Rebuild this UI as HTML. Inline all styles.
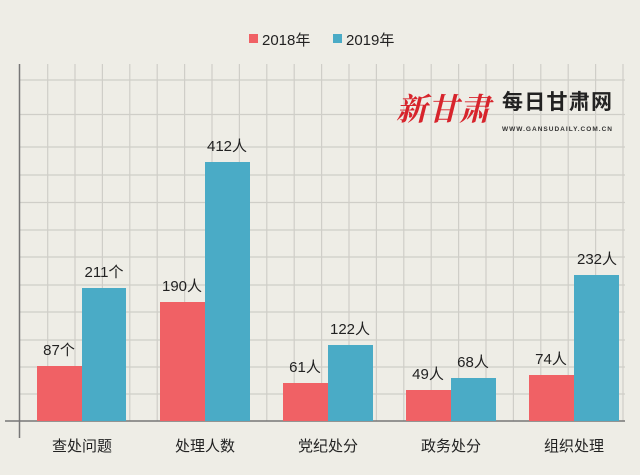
<!DOCTYPE html><html><head><meta charset="utf-8"><style>
body{margin:0;background:#eeede6;}
svg{display:block}
text{font-family:"Liberation Sans","Noto Sans CJK SC",sans-serif;fill:#222}
</style></head><body>
<svg width="640" height="475" viewBox="0 0 640 475">
<rect width="640" height="475" fill="#eeede6"/>
<g stroke="#cfcec8" stroke-width="1.2">
<line x1="47.7" y1="64" x2="47.7" y2="421"/><line x1="75" y1="64" x2="75" y2="421"/><line x1="102.4" y1="64" x2="102.4" y2="421"/><line x1="129.8" y1="64" x2="129.8" y2="421"/><line x1="157.2" y1="64" x2="157.2" y2="421"/><line x1="184.6" y1="64" x2="184.6" y2="421"/><line x1="212" y1="64" x2="212" y2="421"/><line x1="239.4" y1="64" x2="239.4" y2="421"/><line x1="266.8" y1="64" x2="266.8" y2="421"/><line x1="294.2" y1="64" x2="294.2" y2="421"/><line x1="321.6" y1="64" x2="321.6" y2="421"/><line x1="349" y1="64" x2="349" y2="421"/><line x1="376.4" y1="64" x2="376.4" y2="421"/><line x1="403.8" y1="64" x2="403.8" y2="421"/><line x1="431.2" y1="64" x2="431.2" y2="421"/><line x1="458.6" y1="64" x2="458.6" y2="421"/><line x1="486" y1="64" x2="486" y2="421"/><line x1="513.4" y1="64" x2="513.4" y2="421"/><line x1="540.8" y1="64" x2="540.8" y2="421"/><line x1="568.2" y1="64" x2="568.2" y2="421"/><line x1="595.6" y1="64" x2="595.6" y2="421"/><line x1="623" y1="64" x2="623" y2="421"/>
<line x1="19" y1="80" x2="625" y2="80"/><line x1="19" y1="114.5" x2="625" y2="114.5"/><line x1="19" y1="147" x2="625" y2="147"/><line x1="19" y1="175" x2="625" y2="175"/><line x1="19" y1="202.5" x2="625" y2="202.5"/><line x1="19" y1="230" x2="625" y2="230"/><line x1="19" y1="257" x2="625" y2="257"/><line x1="19" y1="285" x2="625" y2="285"/><line x1="19" y1="312" x2="625" y2="312"/><line x1="19" y1="340" x2="625" y2="340"/><line x1="19" y1="367" x2="625" y2="367"/><line x1="19" y1="394" x2="625" y2="394"/>
</g>
<line x1="19.5" y1="64" x2="19.5" y2="438" stroke="#777" stroke-width="1.5"/>
<line x1="5" y1="421" x2="625" y2="421" stroke="#777" stroke-width="1.5"/>
<g fill="#f06165">
<rect x="37" y="366" width="45" height="55"/><rect x="160" y="302" width="45" height="119"/><rect x="283" y="383" width="45" height="38"/><rect x="406" y="390" width="45" height="31"/><rect x="529" y="375" width="45" height="46"/>
</g>
<g fill="#4aabc6">
<rect x="82" y="288" width="44" height="133"/><rect x="205" y="162" width="45" height="259"/><rect x="328" y="345" width="45" height="76"/><rect x="451" y="378" width="45" height="43"/><rect x="574" y="275" width="45" height="146"/>
</g>
<g font-size="15" text-anchor="middle">
<text x="59" y="355">87个</text><text x="104" y="277">211个</text>
<text x="182" y="291">190人</text><text x="227" y="151">412人</text>
<text x="305" y="372">61人</text><text x="350" y="334">122人</text>
<text x="428" y="379">49人</text><text x="473" y="367">68人</text>
<text x="551" y="364">74人</text><text x="597" y="264">232人</text>
<text x="82" y="451">查处问题</text><text x="205" y="451">处理人数</text><text x="328" y="451">党纪处分</text><text x="451" y="451">政务处分</text><text x="574" y="451">组织处理</text>
</g>
<rect x="249" y="34" width="9" height="9" fill="#f06165"/><text x="262" y="45" font-size="15">2018年</text>
<rect x="333" y="34" width="9" height="9" fill="#4aabc6"/><text x="346" y="45" font-size="15">2019年</text>
<text x="396" y="120" font-size="31" font-style="italic" font-weight="bold" textLength="94" style="fill:#d7242c;font-family:'Noto Serif CJK SC',serif">新甘肃</text>
<text x="502" y="109" font-size="21" font-weight="bold" textLength="110" style="fill:#222">每日甘肃网</text>
<text x="502" y="131" font-size="6.5" font-weight="bold" textLength="110" style="fill:#333">WWW.GANSUDAILY.COM.CN</text>
</svg></body></html>
